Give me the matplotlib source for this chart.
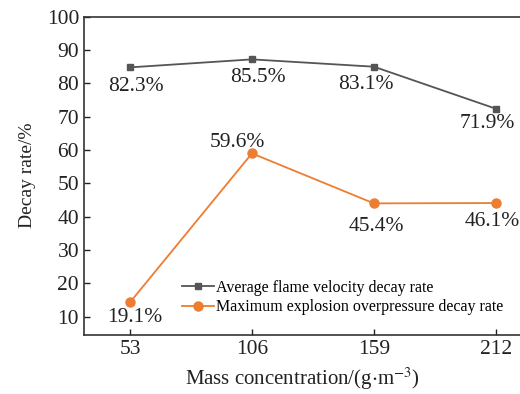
import matplotlib
matplotlib.use("Agg")
import matplotlib.pyplot as plt

plt.rcParams['font.family'] = ['Liberation Serif', 'DejaVu Serif']
plt.rcParams['mathtext.fontset'] = 'stix'

conc = [53, 106, 159, 212]
flame = [84.8, 87.2, 85.0, 72.4]
flame_lbl = ['82.3%', '85.5%', '83.1%', '71.9%']
press = [14.3, 59.0, 44.0, 44.1]
press_lbl = ['19.1%', '59.6%', '45.4%', '46.1%']

# label offsets in points (dx, dy) from each point
flame_off = [(4, -14), (4, -13), (-5.5, -12.5), (-6, -11)]
press_off = [(3.5, -11), (-10.5, 8), (1.5, -16.5), (-2.5, -13)]

fig = plt.figure(figsize=(5.2, 3.94), dpi=100)
ax = fig.add_axes([0.1615, 0.1505, 0.8385, 0.8071])

ax.plot(conc, flame, color='#555555', marker='s', ms=5, lw=1.3,
        label='Average flame velocity decay rate')
ax.plot(conc, press, color='#ED7D31', marker='o', ms=6.5, lw=1.3,
        label='Maximum explosion overpressure decay rate')

for xs, ys, lbls, offs in [(conc, flame, flame_lbl, flame_off), (conc, press, press_lbl, press_off)]:
    for x, y, t, o in zip(xs, ys, lbls, offs):
        ax.annotate(t, (x, y), xytext=o, textcoords='offset points',
                    ha='center', va='center', fontsize=15.5, color='#222222')

ax.set_xlim(33, 222.5)
ax.set_ylim(4.6, 100)
ax.set_xticks(conc)
ax.set_yticks(range(10, 101, 10))
ax.tick_params(direction='in', labelsize=15.5, length=4, width=1, colors='#222222')
ax.spines['right'].set_visible(False)
for s in ['left', 'top', 'bottom']:
    ax.spines[s].set_linewidth(1.2)
    ax.spines[s].set_color('#333333')

ax.set_xlabel('Mass concentration/(g$\\cdot$m$^{-3}$)', fontsize=15, labelpad=5, color='#222222')
ax.set_ylabel('Decay rate/%', fontsize=14, labelpad=8, color='#222222')

ax.legend(loc='lower left', bbox_to_anchor=(0.2, 0.026), frameon=False, fontsize=11.5,
          handlelength=2.0, handletextpad=0.1, labelspacing=0.2, borderpad=0.2)

fig.savefig('out.png', dpi=100)
